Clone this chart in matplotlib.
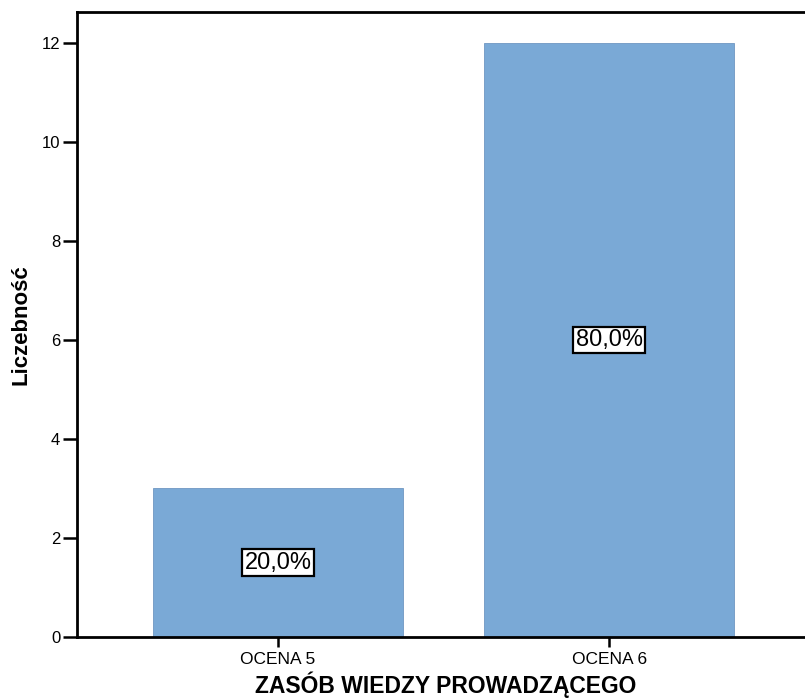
import matplotlib
matplotlib.use('Agg')
import matplotlib.pyplot as plt

matplotlib.rc('font', family='Liberation Sans')

categories = ['OCENA 5', 'OCENA 6']
counts = [3, 12]
percent_labels = ['20,0%', '80,0%']
y_ticks = [0, 2, 4, 6, 8, 10, 12]

bar_color = '#7aa9d6'

fig = plt.figure(figsize=(8.05, 6.99), dpi=100)
ax = fig.add_axes([0.0957, 0.0887, 0.9106, 0.894])

x = list(range(len(categories)))
ax.bar(x, counts, width=0.755, color=bar_color, edgecolor='#6f97c2', linewidth=0.6, zorder=1)

for xi, c, lab in zip(x, counts, percent_labels):
    ax.text(xi, c / 2., lab, ha='center', va='center', fontsize=17, zorder=3,
            bbox=dict(boxstyle='square,pad=0.1', facecolor='white', edgecolor='black', linewidth=1.6))

ax.set_xlim(-0.607, 1.607)
ax.set_ylim(0, 12.62)
ax.set_xticks(x)
ax.set_xticklabels(categories, fontsize=12.5)
ax.set_yticks(y_ticks)
ax.set_yticklabels([str(t) for t in y_ticks], fontsize=12)

ax.spines['right'].set_visible(False)
for s in ['top', 'left', 'bottom']:
    ax.spines[s].set_linewidth(2)
    ax.spines[s].set_zorder(2)
ax.tick_params(axis='y', direction='out', length=10, width=1.8, pad=2)
ax.tick_params(axis='x', direction='out', length=7.5, width=1.8, pad=3)

ax.set_xlabel('ZASÓB WIEDZY PROWADZĄCEGO', fontsize=16.5, fontweight='bold')
ax.set_ylabel('Liczebność', fontsize=16, fontweight='bold')
# x label sits centred under the bars, not the whole axis
ax.xaxis.set_label_coords((446 - 77) / 733., -0.056)
ax.yaxis.set_label_coords(-0.062, 0.5)

fig.savefig('out.png', dpi=100)
